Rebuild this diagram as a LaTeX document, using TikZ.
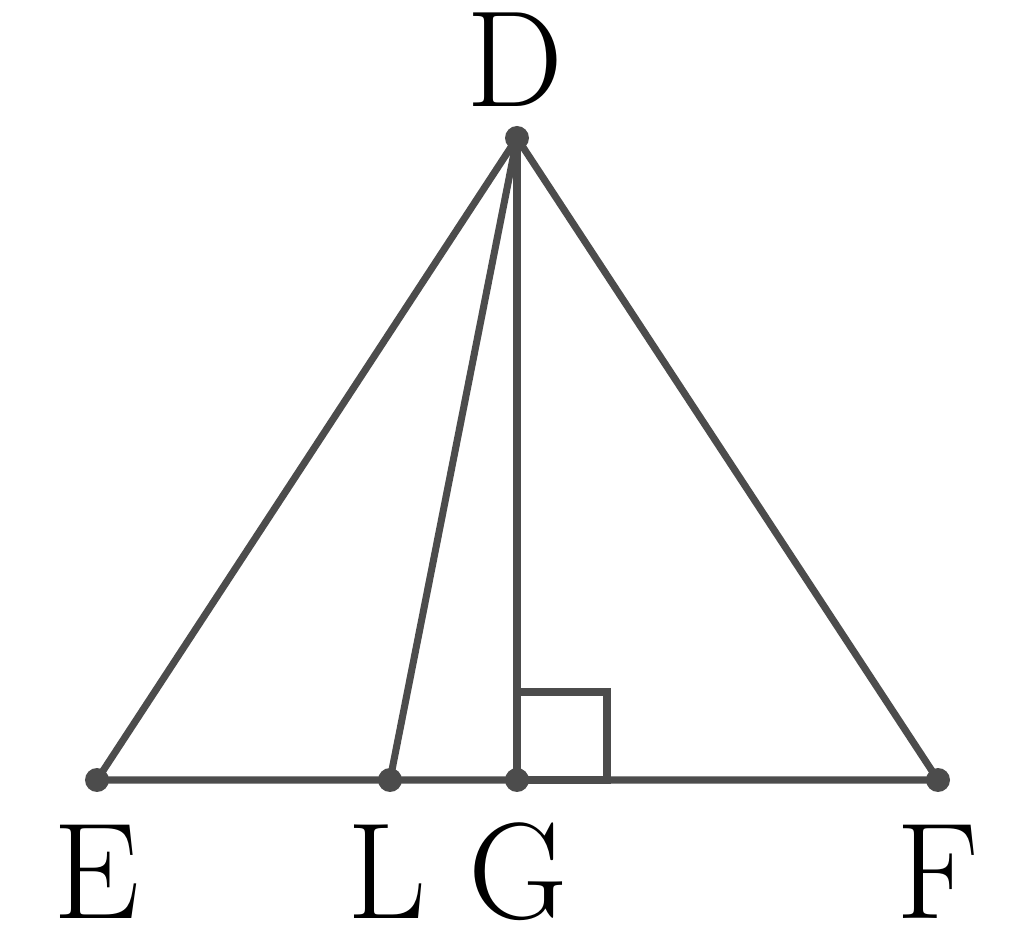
\documentclass[tikz,border=0pt]{standalone}
\usepackage{amsmath}
\begin{document}
\begin{tikzpicture}[line width=2pt, draw=black!70,
    lbl/.style={font=\fontsize{39}{44}\selectfont, inner sep=0pt}]
  \useasboundingbox (-0.97,-1.69) rectangle (9.27,7.80);
  \coordinate (E) at (0,0);
  \coordinate (F) at (8.41,0);
  \coordinate (L) at (2.93,0);
  \coordinate (G) at (4.20,0);
  \coordinate (D) at (4.20,6.42);
  \coordinate (Q) at (5.10,0.88);
  \draw[black!70] (E) -- (F) -- (D) -- cycle;
  \draw[black!70] (D) -- (L);
  \draw[black!70] (D) -- (G);
  \draw[black!70] (G) rectangle (Q);
  \foreach \p in {D,E,F,L,G}{
    \fill[black!70] (\p) circle (0.12);
  }
  \node[lbl] (lD) at (4.18,7.20) {D};
  \node[lbl] (lE) at (0,-0.92) {E};
  \node[lbl] (lL) at (2.90,-0.92) {L};
  \node[lbl] (lG) at (4.21,-0.92) {G};
  \node[lbl] (lF) at (8.41,-0.92) {F};
\end{tikzpicture}
\end{document}
